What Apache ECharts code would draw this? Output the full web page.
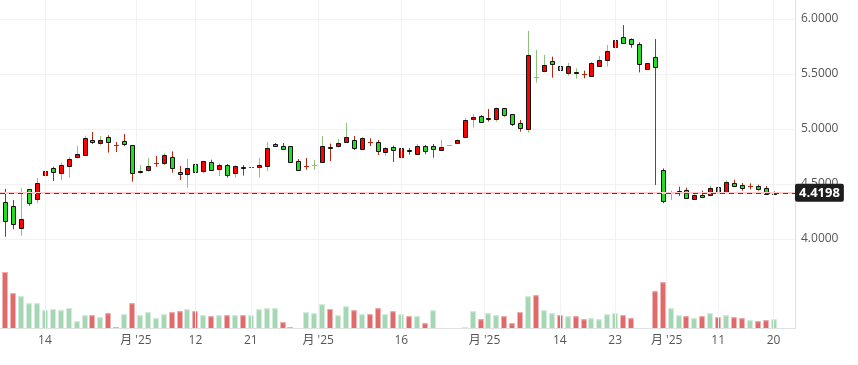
<!DOCTYPE html>
<html><head><meta charset="utf-8">
<script src="https://cdn.jsdelivr.net/npm/echarts@6/dist/echarts.min.js"></script>
<style>html,body{margin:0;padding:0;background:#fff}#c{width:858px;height:365px}</style>
</head><body><div id="c"></div>
<script>
// index 0 is the partially visible candle at the left edge
const opens = [4.80,
 4.336,4.297,4.097,4.452,4.361,4.579,4.643,4.597,4.661,4.743,
 4.761,4.900,4.870,4.927,4.857,4.891,4.855,4.606,4.625,4.691,
 4.688,4.743,4.609,4.588,4.679,4.615,4.697,4.633,4.670,4.597,
 4.652,4.658,4.652,4.667,4.864,4.845,4.845,4.706,4.661,4.673,
 4.703,4.833,4.849,4.885,4.897,4.821,4.882,4.879,4.794,4.836,
 4.748,4.797,4.770,4.845,4.845,4.806,4.852,4.876,4.930,5.094,
 5.118,5.097,5.088,5.188,5.133,5.052,4.997,5.476,5.530,5.618,
 5.570,5.512,5.509,5.503,5.485,5.576,5.630,5.748,5.833,5.815,
 5.770,5.543,5.652,4.624,4.430,4.439,4.445,4.367,4.400,4.397,
 4.473,4.430,4.506,4.491,4.479,4.479,4.464,4.424,4.4198];
const closes = [4.34,
 4.166,4.134,4.179,4.325,4.506,4.618,4.612,4.670,4.727,4.773,
 4.915,4.879,4.897,4.879,4.857,4.861,4.597,4.615,4.661,4.691,
 4.761,4.643,4.588,4.643,4.606,4.706,4.630,4.670,4.579,4.661,
 4.645,4.658,4.673,4.824,4.843,4.821,4.703,4.630,4.661,4.673,
 4.845,4.823,4.873,4.927,4.830,4.915,4.882,4.803,4.824,4.806,
 4.824,4.806,4.845,4.797,4.821,4.836,4.852,4.900,5.082,5.106,
 5.067,5.088,5.188,5.130,5.048,5.012,5.673,5.476,5.582,5.594,
 5.539,5.570,5.518,5.503,5.600,5.627,5.709,5.809,5.785,5.770,
 5.588,5.597,5.567,4.343,4.430,4.425,4.370,4.400,4.385,4.464,
 4.421,4.518,4.485,4.467,4.479,4.458,4.406,4.413,4.4198];
const lows = [4.30,
 4.021,4.088,4.030,4.303,4.325,4.512,4.527,4.536,4.557,4.734,
 4.761,4.864,4.855,4.785,4.791,4.843,4.521,4.591,4.612,4.657,
 4.670,4.603,4.536,4.467,4.588,4.597,4.618,4.573,4.558,4.558,
 4.576,4.633,4.557,4.618,4.839,4.812,4.703,4.618,4.630,4.630,
 4.703,4.709,4.830,4.876,4.809,4.821,4.845,4.764,4.755,4.700,
 4.721,4.767,4.770,4.770,4.739,4.806,4.852,4.874,4.930,5.012,
 5.058,5.067,5.067,5.112,5.027,4.976,4.967,5.421,5.515,5.467,
 5.445,5.485,5.457,5.461,5.485,5.567,5.567,5.709,5.773,5.739,
 5.515,5.543,4.491,4.325,4.355,4.391,4.370,4.367,4.382,4.397,
 4.421,4.430,4.476,4.439,4.452,4.439,4.406,4.406,4.412];
const highs = [4.85,
 4.455,4.355,4.461,4.452,4.555,4.673,4.657,4.694,4.748,4.845,
 4.939,4.973,4.936,4.943,4.882,4.955,4.855,4.673,4.736,4.755,
 4.779,4.797,4.664,4.727,4.718,4.712,4.721,4.688,4.682,4.670,
 4.673,4.697,4.736,4.882,4.873,4.873,4.845,4.727,4.736,4.718,
 4.936,4.867,4.909,5.055,4.936,4.927,4.915,4.900,4.836,4.849,
 4.855,4.827,4.864,4.855,4.864,4.900,4.852,4.905,5.100,5.136,
 5.127,5.182,5.197,5.188,5.133,5.082,5.891,5.718,5.673,5.658,
 5.591,5.600,5.552,5.530,5.609,5.664,5.764,5.915,5.945,5.824,
 5.788,5.597,5.818,4.642,4.439,4.476,4.467,4.418,4.439,4.485,
 4.473,4.533,4.539,4.509,4.506,4.494,4.482,4.433,4.425];
// wick colour flag: 1 = red, 0 = green
const wickUp = [1,
 1,1,0,1,0,0,1,0,0,0,
 0,1,0,1,1,1,1,0,0,1,
 0,1,1,0,1,0,1,0,1,0,
 1,1,0,0,1,1,1,1,1,0,
 0,1,0,0,1,0,1,1,0,1,
 0,1,0,1,1,0,0,0,0,0,
 1,1,0,1,1,1,0,0,0,1,
 1,0,0,1,0,0,0,0,1,1,
 1,1,1,1,0,1,1,0,1,0,
 0,0,1,1,1,1,1,1,1];
const volumes = [0,
 56,34.7,31.7,24.7,24.7,17.7,19,17.7,20,6.7,
 12.7,12.7,10.7,14.7,1,13.7,24.7,12.7,15.7,9.7,
 13.7,15.7,16.7,18.7,16.7,12.7,11.7,12.7,12.7,12.7,
 12.7,12.7,18.7,19.7,19.7,5.7,1,0,15.7,14.7,
 23.7,19,12.7,21.7,17.7,13.7,13.7,19.7,13.7,16.7,
 13.7,11.7,11.7,4.7,17.7,0,0,0,1,16.7,
 8.7,14.7,12.7,11.7,4.7,15.7,31.7,32.7,17.7,14.7,
 12.7,11.7,11.7,8.7,9.7,8.7,13.7,14.7,12.7,9.7,
 0,0,36.7,45.7,19.7,12.7,11.7,9.7,11.7,14.7,
 10.7,12.7,10.7,9.7,7.7,6.7,7.7,8.7,0];
// volume colour flag: 1 = red, 0 = green
const volUp = [0,
 1,1,0,0,0,0,0,0,0,0,
 0,1,0,1,1,0,1,0,0,0,
 0,1,1,0,1,0,1,0,1,0,
 1,0,0,0,0,1,1,0,0,0,
 0,1,0,0,1,0,1,1,0,1,
 0,1,0,1,0,0,0,0,0,0,
 1,0,0,1,1,1,0,1,0,0,
 1,0,1,1,0,0,0,0,1,1,
 0,0,1,1,0,0,1,0,1,0,
 1,0,1,1,0,1,1,0,0];
const tickAt = [6, 17.5, 25, 32, 40.5, 51, 61.5, 71, 78, 84.5, 91, 98];
const tickLabels = ['14', "月 '25", '12', '21', "月 '25", '16', "月 '25", '14', '23', "月 '25", '11', '20'];
const lastPrice = 4.4198;
const refPrice = 4.424;

const FONT = "'Open Sans','Noto Sans CJK SC',sans-serif";
const XMIN = 0.331, XMAX = 100.7;
const L = 0, R = 63;

const candleData = opens.map((o, k) => [k, o, closes[k], lows[k], highs[k], wickUp[k]]);
const volData = volumes.map((v, k) => [k, v, volUp[k]]);

const chart = echarts.init(document.getElementById('c'));
chart.setOption({
  animation: false,
  backgroundColor: '#fff',
  grid: [
    {left: L, right: R, top: 19, height: 220},
    {left: L, right: R, top: 262, bottom: 37},
    {left: L, right: R, top: 0, bottom: 37}
  ],
  xAxis: [
    {type: 'value', gridIndex: 0, min: XMIN, max: XMAX, show: false},
    {type: 'value', gridIndex: 1, min: XMIN, max: XMAX, position: 'top',
     axisLine: {show: true, lineStyle: {color: '#d0d0d0', width: 1}},
     axisTick: {show: false}, axisLabel: {show: false}, splitLine: {show: false}},
    {type: 'value', gridIndex: 2, min: XMIN, max: XMAX, position: 'bottom',
     axisLine: {show: true, onZero: false, lineStyle: {color: '#e0e0e0', width: 1}},
     axisTick: {show: false, customValues: tickAt},
     axisLabel: {customValues: tickAt, color: '#555', fontSize: 12, fontFamily: FONT, margin: 7,
       formatter: v => { const i = tickAt.indexOf(v); return i >= 0 ? tickLabels[i] : ''; }},
     splitLine: {show: false}}
  ],
  yAxis: [
    {type: 'value', gridIndex: 0, min: 4, max: 6, interval: 0.5, position: 'right',
     axisLine: {show: false}, axisTick: {show: false},
     axisLabel: {color: '#555', fontSize: 12, fontFamily: FONT, margin: 6, formatter: v => v.toFixed(4)},
     splitLine: {show: true, lineStyle: {color: '#f2f2f2', width: 1}}},
    {type: 'value', gridIndex: 1, min: 0, max: 66, show: false},
    {type: 'value', gridIndex: 2, min: 0, max: 1, position: 'right',
     axisLine: {show: true, lineStyle: {color: '#e0e0e0', width: 1}},
     axisTick: {show: false}, axisLabel: {show: false}, splitLine: {show: false}}
  ],
  series: [
    {
      type: 'line', xAxisIndex: 2, yAxisIndex: 2, data: [[tickAt[0], 0]], z: 0,
      symbol: 'none', silent: true, lineStyle: {opacity: 0},
      markLine: {
        silent: true, symbol: ['none', 'none'], animation: false, label: {show: false},
        lineStyle: {type: 'solid', color: '#f2f2f2', width: 1},
        data: tickAt.map(t => ({xAxis: t}))
      }
    },
    {
      type: 'custom', xAxisIndex: 1, yAxisIndex: 1, data: volData,
      encode: {x: 0, y: 1}, clip: false, z: 2,
      renderItem: function (params, api) {
        const k = api.value(0), v = api.value(1), up = api.value(2);
        if (!v) return null;
        const p0 = api.coord([k, 0]), p1 = api.coord([k, v]);
        const cx = Math.round(p0[0]);
        const x0 = cx - 2.5, w = 5;
        const h = Math.max(p0[1] - p1[1], 1);
        const top = p0[1] - h;
        return {type: 'group', children: [
          {type: 'rect', shape: {x: x0, y: top, width: w, height: h},
           style: {fill: up ? '#e06a6a' : '#a6d7b5'}},
          {type: 'rect', shape: {x: x0, y: top, width: w, height: 1},
           style: {fill: up ? '#f2a9a9' : '#d2ecd9'}}
        ]};
      }
    },
    {
      type: 'custom', xAxisIndex: 0, yAxisIndex: 0, data: candleData,
      encode: {x: 0, y: [1, 2, 3, 4]}, clip: false, z: 3,
      renderItem: function (params, api) {
        const k = api.value(0), o = api.value(1), c = api.value(2), l = api.value(3), h = api.value(4), wu = api.value(5);
        const pO = api.coord([k, o]), pC = api.coord([k, c]), pL = api.coord([k, l]), pH = api.coord([k, h]);
        const x = Math.round(pO[0]) + 0.5;
        const wc = wu ? '#b8260f' : '#8dc27b';
        const ch = [];
        if (pL[1] - pH[1] > 0.5) {
          ch.push({type: 'line', shape: {x1: x, y1: pH[1], x2: x, y2: pL[1]}, style: {stroke: wc, lineWidth: 1}});
        }
        if (o === c) {
          const y = Math.round(pO[1]) + 0.5;
          ch.push({type: 'line', shape: {x1: x - 2.5, y1: y, x2: x + 2.5, y2: y}, style: {stroke: wc, lineWidth: 1}});
        } else {
          let t = Math.round(Math.min(pO[1], pC[1])) + 0.5;
          let b = Math.round(Math.max(pO[1], pC[1])) + 0.5;
          if (b - t < 1) b = t + 1;
          ch.push({type: 'rect', shape: {x: x - 2, y: t, width: 4, height: b - t},
            style: {fill: c > o ? '#ff0000' : '#22dd22', stroke: '#111', lineWidth: 1}});
        }
        return {type: 'group', children: ch};
      }
    },
    {
      type: 'line', xAxisIndex: 0, yAxisIndex: 0, data: closes.map((c, k) => [k, c]),
      symbol: 'none', silent: true, lineStyle: {opacity: 0}, z: 4,
      markLine: {
        silent: true, symbol: ['none', 'none'], animation: false,
        data: [
          {yAxis: refPrice, lineStyle: {type: 'solid', color: '#ffcccc', width: 2}, label: {show: false}},
          {yAxis: lastPrice, lineStyle: {type: [5, 4], color: '#444', width: 1},
           label: {show: true, position: 'end', distance: 0, formatter: lastPrice.toFixed(4),
             backgroundColor: '#1e1e1e', color: '#fff', fontWeight: 'bold', fontSize: 13,
             fontFamily: FONT, padding: [3, 4, 2, 4], borderRadius: 2}}
        ]
      }
    }
  ]
});
</script>
</body></html>
